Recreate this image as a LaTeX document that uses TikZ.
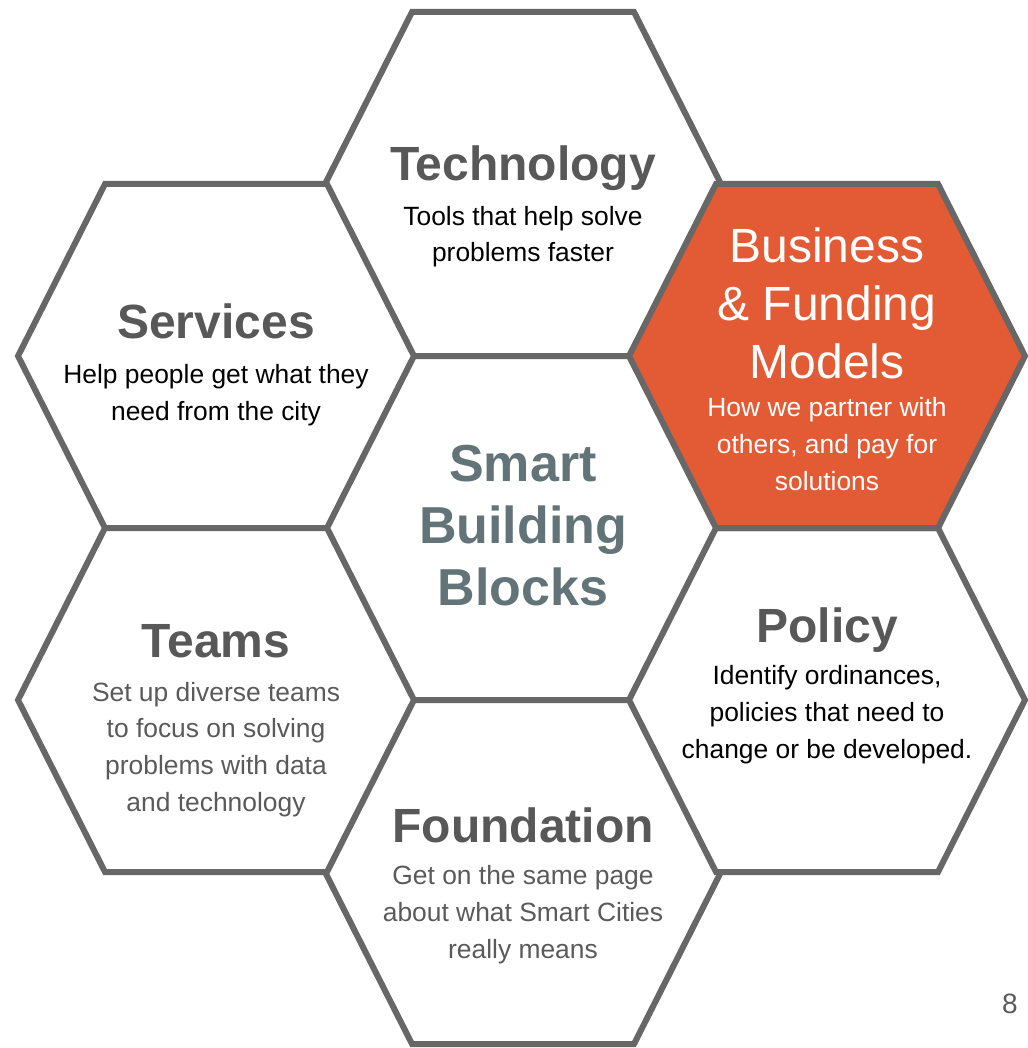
\documentclass[tikz,border=0pt]{standalone}
\usepackage{fontspec}
\setmainfont{Liberation Sans}
\usepackage{tikz}
\definecolor{hexgray}{HTML}{676767}
\definecolor{titlegray}{HTML}{585858}
\definecolor{descgray}{HTML}{5A5A5A}
\definecolor{slate}{HTML}{627478}
\definecolor{bizorange}{HTML}{E25B35}
\begin{document}
\begin{tikzpicture}[x=0.75pt,y=-0.75pt]
\tikzstyle{hexline}=[draw=hexgray,line width=4.5pt,line join=miter]
\tikzstyle{title}=[anchor=base,text=titlegray,font=\fontsize{36}{43.5}\selectfont\bfseries]
\tikzstyle{desc}=[anchor=base,align=center,font=\fontsize{19.8}{27.5}\selectfont]
\useasboundingbox (0,0) rectangle (1027,1048);
% white hexagons
\foreach \cx/\cy in {523/184, 523/528, 523/872, 216/356, 216/700, 827/700}
  \draw[hexline,fill=white,shift={(\cx,\cy)}] (-198,0) -- (-111,-172) -- (111,-172) -- (198,0) -- (111,172) -- (-111,172) -- cycle;
% highlighted hexagon
\draw[hexline,fill=bizorange,shift={(827,356)}] (-198,0) -- (-111,-172) -- (111,-172) -- (198,0) -- (111,172) -- (-111,172) -- cycle;
% texts (base = last line)
\node[title] (techtitle) at (523,181) {Technology};
\node[desc] (techdesc) at (523,262) {Tools that help solve\\problems faster};
\node[title] (servtitle) at (216,338) {Services};
\node[desc] (servdesc) at (216,420) {Help people get what they\\need from the city};
\node[anchor=base,align=center,text=white,font=\fontsize{36}{43.2}\selectfont] (biztitle) at (827,378) {Business\\\& Funding\\Models};
\node[desc,text=white] (bizdesc) at (827,490) {How we partner with\\others, and pay for\\solutions};
\node[anchor=base,align=center,text=slate,font=\fontsize{39}{46.5}\selectfont\bfseries] (center) at (523,605) {Smart\\Building\\Blocks};
\node[title] (teamtitle) at (216,657) {Teams};
\node[desc,text=descgray] (teamdesc) at (216,811) {Set up diverse teams\\to focus on solving\\problems with data\\and technology};
\node[title] (policytitle) at (827,642) {Policy};
\node[desc] (policydesc) at (827,758) {Identify ordinances,\\policies that need to\\change or be developed.};
\node[title] (foundtitle) at (523,842) {Foundation};
\node[desc,text=descgray] (founddesc) at (523,958) {Get on the same page\\about what Smart Cities\\really means};
\node[anchor=base,text=descgray,font=\fontsize{21}{25}\selectfont] (pagenum) at (1010,1013) {8};
\end{tikzpicture}
\end{document}
